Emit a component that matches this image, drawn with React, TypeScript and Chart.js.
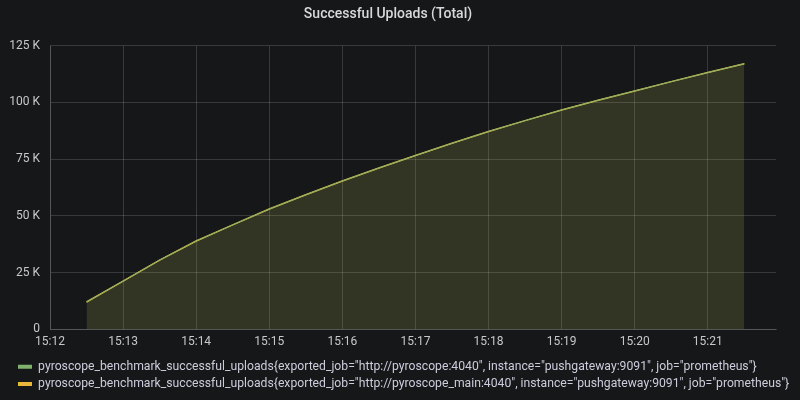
import React, { useEffect, useRef } from "react";
import { Chart, registerables } from "chart.js";

Chart.register(...registerables);

// seconds after 15:12:00
const times: number[] = [30, 60, 90, 120, 150, 180, 210, 240, 270, 300, 330, 360, 390, 420, 450, 480, 510, 540, 570];
const uploadsMain: number[] = [12.0, 21.2, 30.5, 38.9, 46.0, 53.0, 59.3, 65.4, 71.1, 76.6, 82.0, 87.2, 92.0, 96.7, 101.0, 105.1, 109.2, 113.2, 117.1].map((v) => v * 1000);
const uploadsOther: number[] = [12.0, 21.2, 30.5, 38.9, 46.0, 53.0, 59.3, 65.4, 71.1, 76.6, 82.0, 87.2, 92.0, 96.7, 101.0, 105.1, 109.2, 113.2, 117.1].map((v) => v * 1000);
const seriesLabels: string[] = [
  'pyroscope_benchmark_successful_uploads{exported_job="http://pyroscope:4040", instance="pushgateway:9091", job="prometheus"}',
  'pyroscope_benchmark_successful_uploads{exported_job="http://pyroscope_main:4040", instance="pushgateway:9091", job="prometheus"}',
];
const yTicks: number[] = [0, 25000, 50000, 75000, 100000, 125000];
const xMin = 0;
const xMax = 596;
const baseHour = 15;
const baseMinute = 12;

const BG = "#161719";
const TEXT = "#c7c8cc";
const GRID = "rgba(255,255,255,0.15)";
const LEGEND_SHIFT = 13;

const legendShift = {
  id: "legendShift",
  afterLayout(chart: any) {
    if (chart.legend) {
      chart.legend.left += LEGEND_SHIFT;
      chart.legend.right += LEGEND_SHIFT;
    }
  },
};

export default function App() {
  const ref = useRef<HTMLCanvasElement | null>(null);
  useEffect(() => {
    document.body.style.margin = "0";
    document.body.style.background = BG;
    const ctx = ref.current!;
    const chart = new Chart(ctx, {
      type: "line",
      data: {
        datasets: [
          {
            label: seriesLabels[0],
            data: times.map((t, i) => ({ x: t, y: uploadsOther[i] })),
            borderColor: "#7EB26D",
            backgroundColor: "rgba(126,178,109,0.1)",
            borderWidth: 1,
            fill: "origin",
            pointRadius: 0,
            tension: 0,
          },
          {
            label: seriesLabels[1],
            data: times.map((t, i) => ({ x: t, y: uploadsMain[i] })),
            borderColor: "#EAB839",
            backgroundColor: "rgba(234,184,57,0.1)",
            borderWidth: 1.5,
            fill: "origin",
            pointRadius: 0,
            tension: 0,
          },
        ],
      },
      plugins: [legendShift],
      options: {
        animation: false,
        responsive: false,
        maintainAspectRatio: false,
        layout: { padding: { left: 0, right: 24, top: 0, bottom: 0 } },
        plugins: {
          title: {
            display: true,
            text: "Successful Uploads (Total)",
            color: "#d8d9da",
            font: { family: "Roboto", size: 14, weight: "500" },
            padding: { top: 6, bottom: 23 },
          },
          legend: {
            display: true,
            position: "bottom",
            align: "start",
            labels: {
              color: "#ccccdc",
              font: { family: "Roboto", size: 12.2 },
              boxWidth: 14,
              boxHeight: 4,
              padding: 5,
              generateLabels: (c: any) =>
                c.data.datasets.map((d: any, i: number) => ({
                  text: d.label,
                  fillStyle: d.borderColor,
                  strokeStyle: d.borderColor,
                  lineWidth: 0,
                  hidden: false,
                  datasetIndex: i,
                  fontColor: "#ccccdc",
                })),
            },
          },
          tooltip: { enabled: false },
        },
        scales: {
          x: {
            type: "linear",
            min: xMin,
            max: xMax,
            afterBuildTicks: (scale: any) => {
              const t = [];
              for (let s = 0; s <= xMax; s += 60) t.push({ value: s });
              scale.ticks = t;
            },
            ticks: {
              color: TEXT,
              font: { family: "Roboto", size: 12 },
              padding: 6,
              maxRotation: 0,
              autoSkip: false,
              callback: (v: any) => {
                const m = baseMinute + Math.round(Number(v) / 60);
                return `${baseHour}:${String(m).padStart(2, "0")}`;
              },
            },
            grid: { color: GRID, drawTicks: false },
            border: { color: GRID },
          },
          y: {
            min: 0,
            max: 125000,
            afterBuildTicks: (scale: any) => {
              scale.ticks = yTicks.map((v) => ({ value: v }));
            },
            afterFit: (scale: any) => {
              scale.width = 50;
            },
            ticks: {
              color: TEXT,
              font: { family: "Roboto", size: 12 },
              padding: 10,
              callback: (v: any) => (Number(v) === 0 ? "0" : `${Number(v) / 1000} K`),
            },
            grid: { color: GRID, drawTicks: false },
            border: { color: GRID },
          },
        },
      },
    } as any);
    return () => chart.destroy();
  }, []);
  return (
    <div style={{ width: 800, height: 400, background: BG }}>
      <canvas ref={ref} width={800} height={400} style={{ display: "block" }} />
    </div>
  );
}
